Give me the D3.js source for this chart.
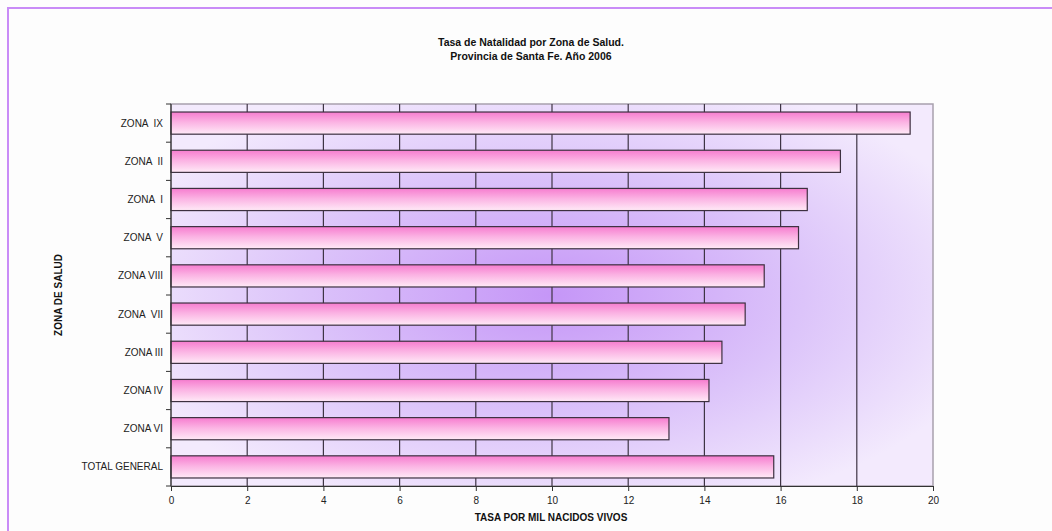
<!DOCTYPE html>
<html><head><meta charset="utf-8">
<script src="https://cdn.jsdelivr.net/npm/d3@7"></script>
<style>body{margin:0;background:#fdfdfd;}svg{display:block;font-family:Arial,"Liberation Sans",sans-serif;}</style>
</head><body><svg id="c" width="1052" height="531"></svg>
<script>
const categories = ["ZONA  IX","ZONA  II","ZONA  I","ZONA  V","ZONA VIII","ZONA  VII","ZONA III","ZONA IV","ZONA VI","TOTAL GENERAL"];
const values = [19.40,17.57,16.70,16.47,15.57,15.07,14.46,14.12,13.07,15.82];
const xTicks = [0,2,4,6,8,10,12,14,16,18,20];
const titleLines = ["Tasa de Natalidad por Zona de Salud.","Provincia de Santa Fe. Año 2006"];
const xTitle = "TASA POR MIL NACIDOS VIVOS";
const yTitle = "ZONA DE SALUD";

const svg = d3.select("#c");
const m = {l:171, r:933, t:104, b:486};
const x = d3.scaleLinear().domain([0,20]).range([m.l,m.r]);
const y = d3.scaleBand().domain(categories).range([m.t,m.b]).paddingInner(0.42).paddingOuter(0.21);

const defs = svg.append("defs");
const rg = defs.append("radialGradient").attr("id","bg").attr("cx","0.5").attr("cy","0.5").attr("r","0.6");
rg.append("stop").attr("offset","0").attr("stop-color","#c596f7");
rg.append("stop").attr("offset","0.55").attr("stop-color","#dcc4fa");
rg.append("stop").attr("offset","1").attr("stop-color","#f3eafd");
const lg = defs.append("linearGradient").attr("id","bar").attr("x1",0).attr("y1",0).attr("x2",0).attr("y2",1);
lg.append("stop").attr("offset","0").attr("stop-color","#f67ccf");
lg.append("stop").attr("offset","0.45").attr("stop-color","#fbb2e3");
lg.append("stop").attr("offset","1").attr("stop-color","#ffeaf7");

// frame
svg.append("rect").attr("x",8).attr("y",8).attr("width",1060).attr("height",540)
  .attr("fill","#fdfdfd").attr("stroke","#c98cf7").attr("stroke-width",2);

// plot background
svg.append("rect").attr("x",m.l).attr("y",m.t).attr("width",m.r-m.l).attr("height",m.b-m.t)
  .attr("fill","url(#bg)").attr("stroke","#a8a0ad").attr("stroke-width",1.5);

// gridlines
svg.append("g").selectAll("line").data(xTicks.slice(1,-1)).join("line")
  .attr("x1",d=>x(d)).attr("x2",d=>x(d)).attr("y1",m.t).attr("y2",m.b)
  .attr("stroke","#3e3444").attr("stroke-width",1.2);

// bars
svg.append("g").selectAll("rect").data(values).join("rect")
  .attr("x",x(0)).attr("y",(d,i)=>y(categories[i]))
  .attr("width",d=>x(d)-x(0)).attr("height",y.bandwidth())
  .attr("fill","url(#bar)").attr("stroke","#3d3040").attr("stroke-width",1.2);

// y axis
const step = y.step();
const yb = d3.range(categories.length+1).map(i=>m.t + i*(m.b-m.t)/categories.length);
const ya = svg.append("g");
ya.append("line").attr("x1",m.l).attr("x2",m.l).attr("y1",m.t).attr("y2",m.b).attr("stroke","#333").attr("stroke-width",1.2);
ya.selectAll("line.t").data(yb).join("line").attr("class","t")
  .attr("x1",m.l-5).attr("x2",m.l).attr("y1",d=>d).attr("y2",d=>d).attr("stroke","#333");
ya.selectAll("text").data(categories).join("text")
  .attr("x",m.l-8).attr("y",d=>y(d)+y.bandwidth()/2).attr("dy","0.35em")
  .attr("text-anchor","end").attr("font-size",10).attr("fill","#222").style("white-space","pre")
  .text(d=>d);

// x axis
const xa = svg.append("g").attr("transform",`translate(0,${m.b})`)
  .call(d3.axisBottom(x).tickValues(xTicks).tickSize(5).tickSizeOuter(0).tickFormat(d3.format("d")));
xa.select(".domain").attr("stroke","#333").attr("stroke-width",1.2);
xa.selectAll(".tick line").attr("stroke","#333");
xa.selectAll("text").attr("font-size",10).attr("fill","#222").attr("font-family","Arial, 'Liberation Sans', sans-serif").attr("dy","0.95em");

// titles
svg.append("g").selectAll("text").data(titleLines).join("text")
  .attr("x",531).attr("y",(d,i)=>46+i*14).attr("text-anchor","middle")
  .attr("font-size",10.5).attr("font-weight","bold").attr("fill","#111").text(d=>d);
svg.append("text").attr("x",551).attr("y",521).attr("text-anchor","middle")
  .attr("font-size",10).attr("font-weight","bold").attr("fill","#111").text(xTitle);
svg.append("text").attr("transform","translate(62,295) rotate(-90)").attr("text-anchor","middle")
  .attr("font-size",10).attr("font-weight","bold").attr("fill","#111").text(yTitle);
</script></body></html>
